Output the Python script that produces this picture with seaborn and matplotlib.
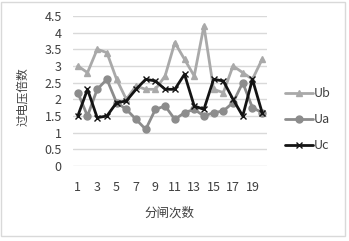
import pandas as pd
import matplotlib.pyplot as plt
import seaborn as sns
from matplotlib.patches import Rectangle

# values
trials = list(range(1, 21))
ub = [3.0, 2.8, 3.5, 3.4, 2.6, 2.0, 2.4, 2.3, 2.3, 2.7, 3.7, 3.2, 2.7, 4.2, 2.3, 2.2, 3.0, 2.8, 2.6, 3.2]
ua = [2.2, 1.5, 2.3, 2.6, 1.9, 1.7, 1.4, 1.1, 1.7, 1.8, 1.4, 1.6, 1.7, 1.5, 1.6, 1.65, 1.9, 2.5, 1.75, 1.6]
uc = [1.5, 2.3, 1.45, 1.5, 1.9, 1.95, 2.3, 2.6, 2.55, 2.3, 2.3, 2.75, 1.8, 1.7, 2.6, 2.55, 2.0, 1.5, 2.6, 1.6]
series_names = ['Ub', 'Ua', 'Uc']
x_ticks = [1, 3, 5, 7, 9, 11, 13, 15, 17, 19]
y_ticks = [0, 0.5, 1, 1.5, 2, 2.5, 3, 3.5, 4, 4.5]

df = pd.DataFrame({
    '分闸次数': trials * 3,
    '过电压倍数': ub + ua + uc,
    'series': ['Ub'] * 20 + ['Ua'] * 20 + ['Uc'] * 20,
})

sns.set_style('white')
plt.rcParams['font.family'] = ['Noto Sans CJK SC', 'DejaVu Sans']

fig = plt.figure(figsize=(3.49, 2.41), dpi=100)
ax = fig.add_axes([0.209, 0.311, 0.556, 0.623])

colors = {'Ub': '#a9a9a9', 'Ua': '#8c8c8c', 'Uc': '#141414'}
markers = {'Ub': '^', 'Ua': 'o', 'Uc': 'x'}
for name in series_names:
    sub = df[df['series'] == name]
    sns.lineplot(data=sub, x='分闸次数', y='过电压倍数', color=colors[name],
                 marker=markers[name], linewidth=2.0, markersize=5,
                 markeredgewidth=1.0, markeredgecolor=colors[name],
                 label=name, ax=ax)

ax.set_xlim(0.5, 20.5)
ax.set_ylim(0, 4.5)
ax.set_xticks(x_ticks)
ax.set_yticks(y_ticks)
ax.set_yticklabels(['0', '0.5', '1', '1.5', '2', '2.5', '3', '3.5', '4', '4.5'])
ax.yaxis.grid(True, color='#d9d9d9', linewidth=1)
ax.set_axisbelow(True)
for s in ax.spines.values():
    s.set_visible(False)
ax.tick_params(axis='both', length=0, labelsize=9, colors='#404040')
ax.tick_params(axis='x', pad=11)
ax.tick_params(axis='y', pad=8)
ax.set_xlabel('分闸次数', fontsize=9, color='#404040', va='center')
ax.xaxis.set_label_coords(0.5, -0.311)
ax.set_ylabel('过电压倍数', fontsize=8.5, color='#404040', va='center', ha='center')
ax.yaxis.set_label_coords(-0.258, 0.463)

handles, labels = ax.get_legend_handles_labels()
ax.legend(handles, labels, loc='center left', bbox_to_anchor=(1.035, 0.31),
          frameon=False, fontsize=9, handlelength=2.2, handletextpad=0.1,
          labelspacing=1.05, labelcolor='#404040')

fig.patches.append(Rectangle((0.004, 0.02), 0.985, 0.97, transform=fig.transFigure,
                             fill=False, edgecolor='#d9d9d9', linewidth=1))

fig.savefig('out.png', dpi=100, facecolor='white')
